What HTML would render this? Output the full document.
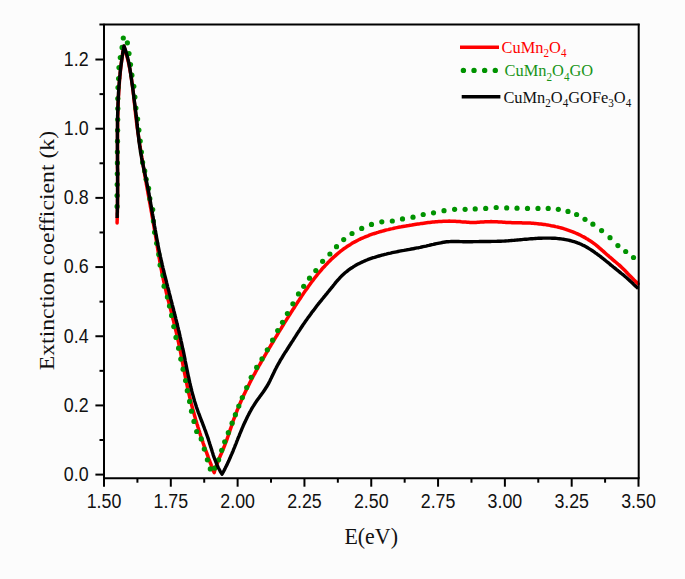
<!DOCTYPE html>
<html><head><meta charset="utf-8"><style>
html,body{margin:0;padding:0;background:#fcfcfc;}
svg{display:block;}
</style></head><body>
<svg width="685" height="579" viewBox="0 0 685 579">
<rect x="0" y="0" width="685" height="579" fill="#fcfcfc"/>
<g fill="none" stroke-linejoin="round">
<path d="M117.1,223.0 L117.1,221.5 L117.2,220.0 L117.2,218.5 L117.3,217.0 L117.3,215.5 L117.3,213.9 L117.4,212.4 L117.4,210.9 L117.4,209.4 L117.5,207.9 L117.5,206.4 L117.5,204.9 L117.5,203.4 L117.5,201.9 L117.5,200.3 L117.6,198.8 L117.6,197.3 L117.6,195.8 L117.6,194.3 L117.6,192.8 L117.6,191.3 L117.6,189.7 L117.6,188.2 L117.6,186.7 L117.6,185.2 L117.6,183.7 L117.6,182.2 L117.6,180.7 L117.6,179.1 L117.6,177.6 L117.6,176.1 L117.6,174.6 L117.6,173.1 L117.6,171.6 L117.5,170.0 L117.5,168.5 L117.5,167.0 L117.5,165.5 L117.5,164.0 L117.5,162.5 L117.5,160.9 L117.5,159.4 L117.5,157.9 L117.5,156.4 L117.5,154.9 L117.5,153.3 L117.5,151.8 L117.5,150.3 L117.5,148.8 L117.5,147.3 L117.5,145.8 L117.5,144.2 L117.5,142.7 L117.5,141.2 L117.5,139.7 L117.5,138.2 L117.5,136.7 L117.5,135.1 L117.5,133.6 L117.5,132.1 L117.5,130.6 L117.5,129.1 L117.6,127.6 L117.6,126.0 L117.6,124.5 L117.6,123.0 L117.6,121.5 L117.7,120.0 L117.7,118.5 L117.7,117.0 L117.8,115.4 L117.8,113.9 L117.9,112.4 L117.9,110.9 L117.9,109.4 L118.0,107.9 L118.1,106.4 L118.1,104.8 L118.2,103.3 L118.2,101.8 L118.3,100.3 L118.4,98.8 L118.4,97.3 L118.5,95.8 L118.6,94.3 L118.7,92.8 L118.8,91.2 L118.9,89.7 L119.0,88.2 L119.1,86.7 L119.2,85.2 L119.3,83.7 L119.4,82.2 L119.5,80.7 L119.6,79.2 L119.8,77.7 L119.9,76.2 L120.0,74.7 L120.2,73.2 L120.3,71.7 L120.5,70.2 L120.7,68.6 L120.8,67.1 L121.0,65.6 L121.2,64.1 L121.4,62.6 L121.6,61.1 L121.8,59.7 L122.0,58.2 L122.2,56.7 L122.4,55.2 L122.6,53.7 L122.9,52.2 L123.1,50.7 L123.4,49.2 L123.6,47.7 L123.9,46.2 L124.4,47.6 L124.8,49.1 L125.3,50.5 L125.7,51.9 L126.1,53.4 L126.5,54.8 L126.9,56.3 L127.3,57.7 L127.7,59.2 L128.0,60.6 L128.4,62.1 L128.7,63.6 L129.0,65.0 L129.3,66.5 L129.6,68.0 L129.9,69.5 L130.1,70.9 L130.4,72.4 L130.7,73.9 L130.9,75.4 L131.1,76.9 L131.4,78.3 L131.6,79.8 L131.8,81.3 L132.0,82.8 L132.2,84.3 L132.4,85.8 L132.6,87.3 L132.8,88.8 L133.0,90.3 L133.2,91.8 L133.3,93.3 L133.5,94.8 L133.7,96.3 L133.8,97.8 L134.0,99.3 L134.2,100.8 L134.3,102.3 L134.5,103.8 L134.7,105.3 L134.8,106.8 L135.0,108.3 L135.1,109.8 L135.3,111.3 L135.5,112.8 L135.6,114.3 L135.8,115.8 L136.0,117.3 L136.2,118.8 L136.4,120.3 L136.5,121.8 L136.7,123.3 L136.9,124.8 L137.1,126.3 L137.3,127.8 L137.5,129.3 L137.7,130.8 L137.9,132.3 L138.1,133.8 L138.4,135.2 L138.6,136.7 L138.8,138.2 L139.0,139.7 L139.2,141.2 L139.5,142.7 L139.7,144.2 L139.9,145.7 L140.1,147.2 L140.4,148.6 L140.6,150.1 L140.8,151.6 L141.1,153.1 L141.3,154.6 L141.6,156.1 L141.8,157.6 L142.1,159.0 L142.3,160.5 L142.5,162.0 L142.8,163.5 L143.1,165.0 L143.3,166.5 L143.6,167.9 L143.8,169.4 L144.1,170.9 L144.3,172.4 L144.6,173.9 L144.8,175.4 L145.1,176.8 L145.4,178.3 L145.6,179.8 L145.9,181.3 L146.2,182.8 L146.4,184.3 L146.7,185.7 L147.0,187.2 L147.2,188.7 L147.5,190.2 L147.8,191.7 L148.0,193.2 L148.3,194.6 L148.6,196.1 L148.8,197.6 L149.1,199.1 L149.4,200.6 L149.6,202.1 L149.9,203.5 L150.2,205.0 L150.4,206.5 L150.7,208.0 L151.0,209.5 L151.2,211.0 L151.5,212.4 L151.8,213.9 L152.0,215.4 L152.3,216.9 L152.6,218.4 L152.8,219.9 L153.1,221.3 L153.3,222.8 L153.6,224.3 L153.9,225.8 L154.1,227.3 L154.4,228.8 L154.6,230.3 L154.9,231.7 L155.1,233.2 L155.4,234.7 L155.6,236.2 L155.9,237.7 L156.1,239.2 L156.4,240.7 L156.6,242.2 L156.8,243.6 L157.1,245.1 L157.3,246.6 L157.6,248.1 L157.8,249.6 L158.1,251.1 L158.3,252.6 L158.5,254.1 L158.8,255.5 L159.0,257.0 L159.3,258.5 L159.6,260.0 L159.8,261.5 L160.1,263.0 L160.3,264.4 L160.6,265.9 L160.9,267.4 L161.2,268.9 L161.5,270.3 L161.7,271.8 L162.0,273.3 L162.4,274.8 L162.7,276.2 L163.0,277.7 L163.3,279.2 L163.6,280.7 L163.9,282.1 L164.3,283.6 L164.6,285.1 L165.0,286.5 L165.3,288.0 L165.6,289.4 L166.0,290.9 L166.3,292.4 L166.7,293.8 L167.1,295.3 L167.4,296.8 L167.8,298.2 L168.1,299.7 L168.5,301.1 L168.9,302.6 L169.2,304.1 L169.6,305.5 L170.0,307.0 L170.4,308.4 L170.7,309.9 L171.1,311.4 L171.5,312.8 L171.8,314.3 L172.2,315.7 L172.6,317.2 L172.9,318.7 L173.3,320.1 L173.7,321.6 L174.0,323.0 L174.4,324.5 L174.8,326.0 L175.1,327.4 L175.5,328.9 L175.8,330.4 L176.2,331.8 L176.5,333.3 L176.8,334.8 L177.2,336.2 L177.5,337.7 L177.8,339.2 L178.1,340.6 L178.5,342.1 L178.8,343.6 L179.1,345.1 L179.4,346.5 L179.7,348.0 L180.0,349.5 L180.3,351.0 L180.6,352.5 L180.9,353.9 L181.2,355.4 L181.4,356.9 L181.7,358.4 L182.0,359.8 L182.3,361.3 L182.6,362.8 L182.9,364.3 L183.1,365.8 L183.4,367.2 L183.7,368.7 L184.0,370.2 L184.3,371.7 L184.6,373.2 L184.9,374.6 L185.2,376.1 L185.5,377.6 L185.7,379.1 L186.0,380.6 L186.4,382.0 L186.7,383.5 L187.0,385.0 L187.3,386.5 L187.6,387.9 L187.9,389.4 L188.3,390.9 L188.6,392.3 L188.9,393.8 L189.3,395.3 L189.6,396.7 L190.0,398.2 L190.3,399.7 L190.7,401.1 L191.1,402.6 L191.4,404.0 L191.8,405.5 L192.2,407.0 L192.6,408.4 L193.0,409.9 L193.4,411.3 L193.8,412.8 L194.2,414.2 L194.6,415.7 L195.0,417.1 L195.4,418.6 L195.8,420.0 L196.3,421.5 L196.7,422.9 L197.1,424.3 L197.6,425.8 L198.0,427.2 L198.5,428.7 L198.9,430.1 L199.4,431.5 L199.8,433.0 L200.3,434.4 L200.7,435.8 L201.2,437.3 L201.7,438.7 L202.2,440.1 L202.7,441.6 L203.1,443.0 L203.6,444.4 L204.1,445.8 L204.6,447.2 L205.1,448.7 L205.6,450.1 L206.1,451.5 L206.7,452.9 L207.2,454.3 L207.7,455.7 L208.2,457.2 L208.7,458.6 L209.3,460.0 L209.8,461.4 L210.3,462.8 L210.9,464.2 L211.4,465.6 L212.0,467.0 L212.5,468.4 L213.1,469.8 L213.6,471.2 L214.2,472.6 L214.6,471.1 L215.0,469.7 L215.5,468.3 L216.0,466.8 L216.5,465.4 L217.0,464.0 L217.6,462.6 L218.1,461.2 L218.7,459.8 L219.2,458.4 L219.8,457.0 L220.4,455.6 L221.0,454.3 L221.6,452.9 L222.2,451.5 L222.7,450.1 L223.3,448.7 L223.9,447.3 L224.5,445.9 L225.0,444.5 L225.5,443.1 L226.1,441.7 L226.6,440.3 L227.1,438.9 L227.6,437.5 L228.1,436.0 L228.6,434.6 L229.1,433.2 L229.6,431.8 L230.0,430.3 L230.5,428.9 L231.0,427.5 L231.5,426.0 L232.0,424.6 L232.5,423.2 L232.9,421.8 L233.4,420.3 L233.9,418.9 L234.5,417.5 L235.0,416.1 L235.5,414.7 L236.0,413.3 L236.6,411.9 L237.1,410.5 L237.7,409.1 L238.3,407.7 L238.8,406.3 L239.4,404.9 L240.0,403.6 L240.6,402.2 L241.2,400.8 L241.8,399.4 L242.4,398.1 L243.1,396.7 L243.7,395.3 L244.3,394.0 L245.0,392.6 L245.6,391.3 L246.3,389.9 L246.9,388.6 L247.6,387.2 L248.3,385.9 L249.0,384.5 L249.6,383.2 L250.3,381.8 L251.0,380.5 L251.7,379.2 L252.4,377.8 L253.1,376.5 L253.8,375.2 L254.6,373.9 L255.3,372.5 L256.0,371.2 L256.7,369.9 L257.5,368.6 L258.2,367.3 L258.9,365.9 L259.7,364.6 L260.4,363.3 L261.2,362.0 L261.9,360.7 L262.7,359.4 L263.4,358.1 L264.2,356.8 L264.9,355.5 L265.7,354.2 L266.4,352.9 L267.2,351.6 L268.0,350.3 L268.7,349.0 L269.5,347.7 L270.3,346.4 L271.0,345.1 L271.8,343.8 L272.6,342.5 L273.4,341.2 L274.1,339.9 L274.9,338.6 L275.7,337.3 L276.5,336.1 L277.2,334.8 L278.0,333.5 L278.8,332.2 L279.6,330.9 L280.4,329.6 L281.2,328.3 L281.9,327.1 L282.7,325.8 L283.5,324.5 L284.3,323.2 L285.1,321.9 L285.9,320.7 L286.7,319.4 L287.5,318.1 L288.3,316.8 L289.1,315.6 L289.9,314.3 L290.7,313.0 L291.5,311.7 L292.3,310.5 L293.1,309.2 L294.0,307.9 L294.8,306.7 L295.6,305.4 L296.4,304.2 L297.2,302.9 L298.1,301.6 L298.9,300.4 L299.7,299.1 L300.6,297.9 L301.4,296.6 L302.2,295.4 L303.1,294.1 L303.9,292.9 L304.8,291.6 L305.6,290.4 L306.5,289.2 L307.4,287.9 L308.2,286.7 L309.1,285.5 L310.0,284.3 L310.9,283.0 L311.8,281.8 L312.7,280.6 L313.6,279.4 L314.5,278.2 L315.4,277.1 L316.4,275.9 L317.3,274.7 L318.3,273.5 L319.2,272.4 L320.2,271.2 L321.2,270.1 L322.1,268.9 L323.1,267.8 L324.2,266.7 L325.2,265.6 L326.2,264.5 L327.3,263.4 L328.3,262.3 L329.4,261.3 L330.4,260.2 L331.5,259.1 L332.6,258.1 L333.7,257.1 L334.9,256.1 L336.0,255.1 L337.1,254.1 L338.3,253.1 L339.5,252.2 L340.6,251.2 L341.8,250.3 L343.0,249.4 L344.2,248.5 L345.5,247.7 L346.7,246.8 L347.9,246.0 L349.2,245.2 L350.5,244.4 L351.7,243.6 L353.0,242.8 L354.3,242.1 L355.7,241.4 L357.0,240.7 L358.3,240.0 L359.7,239.3 L361.0,238.7 L362.4,238.1 L363.8,237.5 L365.2,236.9 L366.6,236.3 L368.0,235.8 L369.4,235.2 L370.8,234.7 L372.2,234.2 L373.7,233.7 L375.1,233.3 L376.5,232.8 L378.0,232.4 L379.4,231.9 L380.9,231.5 L382.3,231.1 L383.8,230.7 L385.2,230.3 L386.7,229.9 L388.2,229.6 L389.6,229.2 L391.1,228.9 L392.6,228.6 L394.0,228.2 L395.5,227.9 L397.0,227.6 L398.5,227.3 L399.9,227.0 L401.4,226.8 L402.9,226.5 L404.4,226.2 L405.8,226.0 L407.3,225.7 L408.8,225.5 L410.3,225.2 L411.8,225.0 L413.3,224.7 L414.7,224.5 L416.2,224.3 L417.7,224.1 L419.2,223.9 L420.7,223.6 L422.2,223.4 L423.7,223.2 L425.2,223.0 L426.7,222.8 L428.2,222.6 L429.7,222.5 L431.2,222.3 L432.7,222.1 L434.2,222.0 L435.7,221.8 L437.2,221.7 L438.7,221.6 L440.2,221.5 L441.7,221.4 L443.2,221.3 L444.7,221.2 L446.2,221.2 L447.7,221.2 L449.2,221.1 L450.7,221.2 L452.2,221.2 L453.7,221.2 L455.2,221.3 L456.7,221.4 L458.2,221.5 L459.7,221.6 L461.2,221.8 L462.7,221.9 L464.1,222.0 L465.6,222.1 L467.1,222.2 L468.6,222.3 L470.1,222.4 L471.6,222.5 L473.1,222.5 L474.6,222.4 L476.1,222.4 L477.6,222.3 L479.1,222.2 L480.6,222.1 L482.1,222.0 L483.6,221.9 L485.1,221.8 L486.6,221.8 L488.1,221.7 L489.6,221.7 L491.1,221.6 L492.6,221.7 L494.1,221.7 L495.6,221.7 L497.1,221.8 L498.6,221.9 L500.1,222.0 L501.6,222.1 L503.1,222.2 L504.6,222.3 L506.1,222.4 L507.6,222.5 L509.1,222.6 L510.6,222.6 L512.1,222.7 L513.6,222.7 L515.1,222.8 L516.7,222.8 L518.2,222.8 L519.7,222.8 L521.2,222.8 L522.7,222.9 L524.2,222.9 L525.7,222.9 L527.2,223.0 L528.7,223.1 L530.2,223.1 L531.7,223.2 L533.3,223.3 L534.8,223.4 L536.3,223.6 L537.8,223.7 L539.3,223.9 L540.8,224.0 L542.3,224.2 L543.8,224.4 L545.3,224.6 L546.8,224.9 L548.2,225.1 L549.7,225.4 L551.2,225.7 L552.7,225.9 L554.2,226.2 L555.6,226.6 L557.1,226.9 L558.5,227.3 L560.0,227.6 L561.4,228.0 L562.9,228.4 L564.3,228.9 L565.7,229.3 L567.2,229.8 L568.6,230.3 L570.0,230.8 L571.4,231.3 L572.8,231.8 L574.1,232.4 L575.5,233.0 L576.9,233.6 L578.2,234.2 L579.6,234.8 L580.9,235.5 L582.2,236.2 L583.6,236.9 L584.9,237.6 L586.2,238.4 L587.4,239.1 L588.7,239.9 L590.0,240.7 L591.2,241.6 L592.5,242.4 L593.7,243.3 L594.9,244.2 L596.1,245.1 L597.3,246.1 L598.5,247.1 L599.6,248.1 L600.8,249.1 L601.9,250.1 L603.1,251.1 L604.2,252.1 L605.4,253.2 L606.5,254.2 L607.6,255.2 L608.8,256.2 L609.9,257.2 L611.1,258.2 L612.2,259.1 L613.3,260.1 L614.5,261.1 L615.6,262.0 L616.8,263.0 L617.9,264.0 L619.0,264.9 L620.1,265.9 L621.2,266.9 L622.3,268.0 L623.3,269.0 L624.4,270.1 L625.4,271.1 L626.5,272.2 L627.5,273.3 L628.6,274.4 L629.6,275.4 L630.7,276.5 L631.7,277.6 L632.8,278.7 L633.8,279.8 L634.9,280.8 L636.0,281.9 L637.1,282.9 L638.2,283.9" stroke="#ff0000" stroke-width="3.5" stroke-linecap="round"/>
</g><g fill="#009300">
<circle cx="117.1" cy="206.4" r="2.6"/>
<circle cx="117.1" cy="195.5" r="2.6"/>
<circle cx="117.2" cy="184.6" r="2.6"/>
<circle cx="117.3" cy="173.8" r="2.6"/>
<circle cx="117.4" cy="162.9" r="2.6"/>
<circle cx="117.4" cy="152.1" r="2.6"/>
<circle cx="117.5" cy="141.2" r="2.6"/>
<circle cx="117.6" cy="130.3" r="2.6"/>
<circle cx="117.7" cy="119.5" r="2.6"/>
<circle cx="117.8" cy="108.6" r="2.6"/>
<circle cx="117.8" cy="98.6" r="2.6"/>
<circle cx="118.0" cy="87.6" r="2.6"/>
<circle cx="118.6" cy="78.5" r="2.6"/>
<circle cx="119.0" cy="67.6" r="2.6"/>
<circle cx="120.3" cy="57.5" r="2.6"/>
<circle cx="122.1" cy="47.4" r="2.6"/>
<circle cx="123.3" cy="38.0" r="2.6"/>
<circle cx="127.4" cy="42.8" r="2.6"/>
<circle cx="129.0" cy="53.5" r="2.6"/>
<circle cx="130.5" cy="64.5" r="2.6"/>
<circle cx="131.9" cy="75.2" r="2.6"/>
<circle cx="133.8" cy="86.3" r="2.6"/>
<circle cx="134.9" cy="97.1" r="2.6"/>
<circle cx="135.9" cy="108.1" r="2.6"/>
<circle cx="137.6" cy="119.1" r="2.6"/>
<circle cx="138.9" cy="130.1" r="2.6"/>
<circle cx="140.2" cy="141.1" r="2.6"/>
<circle cx="141.4" cy="152.1" r="2.6"/>
<circle cx="142.6" cy="162.4" r="2.6"/>
<circle cx="144.7" cy="170.9" r="2.6"/>
<circle cx="146.2" cy="179.3" r="2.6"/>
<circle cx="148.6" cy="188.4" r="2.6"/>
<circle cx="149.8" cy="198.7" r="2.6"/>
<circle cx="152.7" cy="209.6" r="2.6"/>
<circle cx="153.4" cy="221.0" r="2.6"/>
<circle cx="154.6" cy="232.3" r="2.6"/>
<circle cx="156.7" cy="243.3" r="2.6"/>
<circle cx="158.8" cy="254.4" r="2.6"/>
<circle cx="160.1" cy="265.0" r="2.6"/>
<circle cx="163.0" cy="275.4" r="2.6"/>
<circle cx="164.1" cy="286.2" r="2.6"/>
<circle cx="167.4" cy="297.0" r="2.6"/>
<circle cx="169.5" cy="306.0" r="2.6"/>
<circle cx="171.6" cy="315.4" r="2.6"/>
<circle cx="173.8" cy="326.6" r="2.6"/>
<circle cx="176.0" cy="337.4" r="2.6"/>
<circle cx="178.6" cy="348.2" r="2.6"/>
<circle cx="180.8" cy="359.1" r="2.6"/>
<circle cx="183.1" cy="369.2" r="2.6"/>
<circle cx="185.6" cy="380.5" r="2.6"/>
<circle cx="187.3" cy="390.7" r="2.6"/>
<circle cx="189.6" cy="401.4" r="2.6"/>
<circle cx="191.5" cy="411.2" r="2.6"/>
<circle cx="194.0" cy="421.4" r="2.6"/>
<circle cx="196.7" cy="431.5" r="2.6"/>
<circle cx="201.2" cy="438.9" r="2.6"/>
<circle cx="204.3" cy="449.1" r="2.6"/>
<circle cx="207.4" cy="459.8" r="2.6"/>
<circle cx="210.3" cy="468.9" r="2.6"/>
<circle cx="214.7" cy="468.1" r="2.6"/>
<circle cx="218.6" cy="459.8" r="2.6"/>
<circle cx="221.7" cy="450.3" r="2.6"/>
<circle cx="224.7" cy="441.8" r="2.6"/>
<circle cx="228.3" cy="432.7" r="2.6"/>
<circle cx="232.1" cy="423.2" r="2.6"/>
<circle cx="235.4" cy="414.7" r="2.6"/>
<circle cx="238.8" cy="406.1" r="2.6"/>
<circle cx="242.3" cy="397.6" r="2.6"/>
<circle cx="246.7" cy="387.6" r="2.6"/>
<circle cx="251.2" cy="377.3" r="2.6"/>
<circle cx="256.6" cy="367.4" r="2.6"/>
<circle cx="262.0" cy="358.9" r="2.6"/>
<circle cx="267.3" cy="349.8" r="2.6"/>
<circle cx="272.6" cy="340.2" r="2.6"/>
<circle cx="277.7" cy="330.5" r="2.6"/>
<circle cx="282.5" cy="322.3" r="2.6"/>
<circle cx="287.4" cy="313.5" r="2.6"/>
<circle cx="292.9" cy="303.8" r="2.6"/>
<circle cx="298.5" cy="293.9" r="2.6"/>
<circle cx="303.7" cy="286.3" r="2.6"/>
<circle cx="309.5" cy="278.2" r="2.6"/>
<circle cx="315.8" cy="270.6" r="2.6"/>
<circle cx="322.6" cy="261.3" r="2.6"/>
<circle cx="329.9" cy="254.0" r="2.6"/>
<circle cx="336.5" cy="246.7" r="2.6"/>
<circle cx="343.7" cy="239.6" r="2.6"/>
<circle cx="352.0" cy="233.5" r="2.6"/>
<circle cx="361.7" cy="228.4" r="2.6"/>
<circle cx="371.5" cy="224.4" r="2.6"/>
<circle cx="381.8" cy="221.8" r="2.6"/>
<circle cx="392.3" cy="221.0" r="2.6"/>
<circle cx="402.5" cy="218.9" r="2.6"/>
<circle cx="413.0" cy="217.2" r="2.6"/>
<circle cx="423.2" cy="214.5" r="2.6"/>
<circle cx="433.5" cy="212.8" r="2.6"/>
<circle cx="444.0" cy="210.7" r="2.6"/>
<circle cx="454.6" cy="209.3" r="2.6"/>
<circle cx="465.1" cy="209.3" r="2.6"/>
<circle cx="475.2" cy="208.9" r="2.6"/>
<circle cx="485.7" cy="208.4" r="2.6"/>
<circle cx="496.2" cy="207.5" r="2.6"/>
<circle cx="506.7" cy="207.9" r="2.6"/>
<circle cx="517.0" cy="208.2" r="2.6"/>
<circle cx="527.5" cy="208.4" r="2.6"/>
<circle cx="538.0" cy="208.4" r="2.6"/>
<circle cx="548.2" cy="208.4" r="2.6"/>
<circle cx="558.3" cy="209.3" r="2.6"/>
<circle cx="568.0" cy="211.4" r="2.6"/>
<circle cx="576.6" cy="214.5" r="2.6"/>
<circle cx="585.0" cy="219.3" r="2.6"/>
<circle cx="592.9" cy="224.2" r="2.6"/>
<circle cx="601.6" cy="230.6" r="2.6"/>
<circle cx="610.0" cy="237.7" r="2.6"/>
<circle cx="617.9" cy="245.6" r="2.6"/>
<circle cx="625.7" cy="251.5" r="2.6"/>
<circle cx="633.5" cy="257.5" r="2.6"/>
</g><g fill="none" stroke-linejoin="round">
<path d="M117.1,218.0 L117.2,216.5 L117.2,215.0 L117.2,213.4 L117.3,211.9 L117.3,210.4 L117.4,208.9 L117.4,207.4 L117.4,205.8 L117.5,204.3 L117.5,202.8 L117.5,201.3 L117.5,199.7 L117.5,198.2 L117.6,196.7 L117.6,195.2 L117.6,193.7 L117.6,192.1 L117.6,190.6 L117.6,189.1 L117.6,187.6 L117.6,186.0 L117.6,184.5 L117.6,183.0 L117.6,181.4 L117.6,179.9 L117.6,178.4 L117.6,176.9 L117.6,175.3 L117.6,173.8 L117.6,172.3 L117.6,170.8 L117.6,169.2 L117.5,167.7 L117.5,166.2 L117.5,164.6 L117.5,163.1 L117.5,161.6 L117.5,160.1 L117.5,158.5 L117.5,157.0 L117.5,155.5 L117.5,153.9 L117.4,152.4 L117.4,150.9 L117.4,149.3 L117.4,147.8 L117.4,146.3 L117.4,144.8 L117.4,143.2 L117.4,141.7 L117.4,140.2 L117.4,138.6 L117.4,137.1 L117.4,135.6 L117.4,134.1 L117.4,132.5 L117.4,131.0 L117.4,129.5 L117.5,127.9 L117.5,126.4 L117.5,124.9 L117.5,123.4 L117.5,121.8 L117.6,120.3 L117.6,118.8 L117.6,117.3 L117.6,115.7 L117.7,114.2 L117.7,112.7 L117.8,111.2 L117.8,109.6 L117.9,108.1 L117.9,106.6 L118.0,105.1 L118.0,103.5 L118.1,102.0 L118.2,100.5 L118.2,99.0 L118.3,97.4 L118.4,95.9 L118.5,94.4 L118.5,92.9 L118.6,91.4 L118.7,89.8 L118.8,88.3 L118.9,86.8 L119.0,85.3 L119.2,83.8 L119.3,82.2 L119.4,80.7 L119.5,79.2 L119.7,77.7 L119.8,76.2 L120.0,74.7 L120.1,73.1 L120.3,71.6 L120.4,70.1 L120.6,68.6 L120.8,67.1 L121.0,65.6 L121.2,64.1 L121.4,62.6 L121.6,61.1 L121.8,59.5 L122.0,58.0 L122.2,56.5 L122.5,55.0 L122.7,53.5 L122.9,52.0 L123.2,50.5 L123.5,49.0 L123.7,47.5 L124.0,46.0 L124.5,47.4 L125.0,48.8 L125.5,50.3 L126.0,51.7 L126.4,53.1 L126.8,54.6 L127.2,56.0 L127.6,57.5 L127.9,58.9 L128.3,60.4 L128.6,61.8 L128.9,63.3 L129.2,64.8 L129.4,66.3 L129.7,67.7 L130.0,69.2 L130.2,70.7 L130.4,72.2 L130.7,73.7 L130.9,75.2 L131.1,76.7 L131.3,78.2 L131.5,79.6 L131.7,81.1 L131.9,82.6 L132.1,84.1 L132.4,85.6 L132.6,87.1 L132.8,88.6 L133.0,90.1 L133.2,91.6 L133.4,93.1 L133.6,94.6 L133.8,96.1 L133.9,97.6 L134.1,99.1 L134.3,100.6 L134.5,102.0 L134.7,103.5 L134.9,105.0 L135.1,106.5 L135.3,108.0 L135.4,109.5 L135.6,111.0 L135.8,112.5 L136.0,114.0 L136.1,115.5 L136.3,117.0 L136.5,118.5 L136.6,120.0 L136.8,121.5 L137.0,123.0 L137.1,124.5 L137.3,126.0 L137.4,127.5 L137.6,129.0 L137.8,130.5 L137.9,132.0 L138.1,133.5 L138.3,135.0 L138.5,136.5 L138.7,138.0 L138.8,139.5 L139.0,141.0 L139.2,142.5 L139.4,143.9 L139.6,145.4 L139.8,146.9 L140.1,148.4 L140.3,149.9 L140.5,151.4 L140.8,152.9 L141.0,154.4 L141.3,155.8 L141.5,157.3 L141.8,158.8 L142.1,160.3 L142.4,161.7 L142.7,163.2 L143.0,164.7 L143.3,166.2 L143.6,167.6 L143.9,169.1 L144.2,170.6 L144.5,172.0 L144.8,173.5 L145.2,175.0 L145.5,176.5 L145.8,177.9 L146.1,179.4 L146.4,180.9 L146.7,182.3 L147.0,183.8 L147.3,185.3 L147.6,186.8 L147.9,188.2 L148.2,189.7 L148.5,191.2 L148.8,192.7 L149.0,194.2 L149.3,195.6 L149.6,197.1 L149.9,198.6 L150.1,200.1 L150.4,201.6 L150.6,203.1 L150.9,204.5 L151.2,206.0 L151.4,207.5 L151.7,209.0 L151.9,210.5 L152.2,212.0 L152.4,213.5 L152.7,214.9 L152.9,216.4 L153.2,217.9 L153.4,219.4 L153.7,220.9 L153.9,222.4 L154.2,223.9 L154.4,225.3 L154.7,226.8 L155.0,228.3 L155.2,229.8 L155.5,231.3 L155.7,232.8 L156.0,234.2 L156.3,235.7 L156.5,237.2 L156.8,238.7 L157.1,240.2 L157.4,241.6 L157.6,243.1 L157.9,244.6 L158.2,246.1 L158.5,247.6 L158.8,249.0 L159.1,250.5 L159.4,252.0 L159.7,253.4 L160.0,254.9 L160.3,256.4 L160.7,257.9 L161.0,259.3 L161.3,260.8 L161.7,262.3 L162.0,263.7 L162.3,265.2 L162.7,266.6 L163.0,268.1 L163.4,269.6 L163.7,271.0 L164.1,272.5 L164.4,274.0 L164.8,275.4 L165.2,276.9 L165.5,278.3 L165.9,279.8 L166.3,281.2 L166.6,282.7 L167.0,284.2 L167.4,285.6 L167.7,287.1 L168.1,288.5 L168.5,290.0 L168.9,291.4 L169.2,292.9 L169.6,294.4 L170.0,295.8 L170.4,297.3 L170.7,298.7 L171.1,300.2 L171.5,301.6 L171.9,303.1 L172.2,304.6 L172.6,306.0 L173.0,307.5 L173.4,308.9 L173.7,310.4 L174.1,311.8 L174.5,313.3 L174.8,314.8 L175.2,316.2 L175.6,317.7 L175.9,319.1 L176.3,320.6 L176.7,322.1 L177.0,323.5 L177.4,325.0 L177.7,326.4 L178.1,327.9 L178.4,329.4 L178.8,330.8 L179.1,332.3 L179.5,333.8 L179.8,335.2 L180.1,336.7 L180.5,338.2 L180.8,339.6 L181.1,341.1 L181.5,342.6 L181.8,344.1 L182.1,345.5 L182.4,347.0 L182.7,348.5 L183.1,349.9 L183.4,351.4 L183.7,352.9 L184.0,354.4 L184.3,355.9 L184.6,357.3 L184.9,358.8 L185.1,360.3 L185.4,361.8 L185.7,363.2 L186.0,364.7 L186.3,366.2 L186.6,367.7 L186.9,369.2 L187.2,370.6 L187.5,372.1 L187.8,373.6 L188.1,375.1 L188.4,376.5 L188.8,378.0 L189.1,379.5 L189.4,380.9 L189.7,382.4 L190.1,383.9 L190.4,385.3 L190.7,386.8 L191.1,388.2 L191.5,389.7 L191.8,391.2 L192.2,392.6 L192.6,394.1 L193.0,395.5 L193.4,396.9 L193.8,398.4 L194.2,399.8 L194.6,401.3 L195.1,402.7 L195.5,404.1 L196.0,405.5 L196.4,407.0 L196.9,408.4 L197.4,409.8 L197.9,411.2 L198.4,412.6 L199.0,414.0 L199.5,415.4 L200.0,416.8 L200.5,418.2 L201.1,419.6 L201.6,421.0 L202.2,422.4 L202.7,423.8 L203.2,425.2 L203.8,426.6 L204.3,428.0 L204.8,429.4 L205.4,430.8 L205.9,432.3 L206.4,433.7 L206.9,435.1 L207.4,436.5 L207.9,437.9 L208.4,439.4 L208.8,440.8 L209.3,442.2 L209.7,443.7 L210.2,445.1 L210.6,446.6 L211.1,448.0 L211.5,449.4 L212.0,450.9 L212.4,452.3 L212.9,453.7 L213.3,455.2 L213.8,456.6 L214.3,458.0 L214.8,459.4 L215.4,460.8 L215.9,462.2 L216.5,463.6 L217.1,465.0 L217.7,466.3 L218.3,467.7 L219.0,469.0 L219.7,470.3 L220.4,471.6 L221.2,472.9 L222.0,474.2 L222.7,472.9 L223.5,471.6 L224.2,470.2 L224.9,468.9 L225.5,467.6 L226.2,466.2 L226.9,464.9 L227.5,463.5 L228.2,462.1 L228.8,460.8 L229.4,459.4 L230.0,458.0 L230.6,456.6 L231.2,455.2 L231.8,453.9 L232.4,452.5 L233.0,451.1 L233.5,449.7 L234.1,448.3 L234.7,446.9 L235.2,445.5 L235.8,444.1 L236.4,442.6 L236.9,441.2 L237.5,439.8 L238.0,438.4 L238.6,437.0 L239.2,435.6 L239.7,434.2 L240.3,432.8 L240.9,431.4 L241.5,430.0 L242.0,428.7 L242.6,427.3 L243.2,425.9 L243.8,424.5 L244.5,423.1 L245.1,421.8 L245.7,420.4 L246.4,419.0 L247.0,417.7 L247.7,416.3 L248.4,415.0 L249.0,413.7 L249.7,412.4 L250.5,411.0 L251.2,409.7 L251.9,408.4 L252.7,407.1 L253.5,405.9 L254.3,404.6 L255.1,403.3 L255.9,402.1 L256.8,400.8 L257.7,399.6 L258.5,398.4 L259.4,397.2 L260.3,395.9 L261.2,394.7 L262.1,393.5 L263.0,392.3 L263.9,391.0 L264.7,389.8 L265.5,388.5 L266.3,387.3 L267.1,386.0 L267.9,384.7 L268.6,383.4 L269.3,382.0 L270.0,380.7 L270.6,379.3 L271.3,378.0 L271.9,376.6 L272.6,375.3 L273.2,373.9 L273.9,372.5 L274.5,371.2 L275.2,369.8 L275.9,368.5 L276.6,367.1 L277.3,365.8 L278.0,364.5 L278.8,363.2 L279.5,361.9 L280.2,360.5 L281.0,359.2 L281.8,358.0 L282.6,356.7 L283.3,355.4 L284.1,354.1 L284.9,352.8 L285.8,351.6 L286.6,350.3 L287.4,349.0 L288.2,347.8 L289.0,346.5 L289.8,345.2 L290.6,344.0 L291.4,342.7 L292.3,341.4 L293.1,340.2 L293.9,338.9 L294.7,337.6 L295.5,336.4 L296.3,335.1 L297.1,333.8 L297.9,332.6 L298.8,331.3 L299.6,330.1 L300.4,328.8 L301.3,327.5 L302.1,326.3 L302.9,325.0 L303.8,323.8 L304.6,322.6 L305.5,321.3 L306.4,320.1 L307.2,318.9 L308.1,317.6 L309.0,316.4 L309.9,315.2 L310.8,314.0 L311.6,312.8 L312.5,311.6 L313.5,310.4 L314.4,309.2 L315.3,308.0 L316.2,306.8 L317.1,305.6 L318.0,304.4 L319.0,303.2 L319.9,302.0 L320.9,300.9 L321.8,299.7 L322.8,298.5 L323.7,297.4 L324.7,296.2 L325.6,295.0 L326.6,293.9 L327.5,292.7 L328.5,291.5 L329.4,290.4 L330.4,289.2 L331.3,288.0 L332.3,286.9 L333.2,285.7 L334.2,284.5 L335.1,283.3 L336.0,282.2 L337.0,281.0 L338.0,279.9 L339.0,278.8 L340.0,277.7 L341.0,276.6 L342.1,275.5 L343.2,274.5 L344.3,273.5 L345.4,272.5 L346.6,271.6 L347.8,270.6 L349.0,269.7 L350.2,268.8 L351.5,268.0 L352.8,267.2 L354.0,266.4 L355.3,265.6 L356.7,264.8 L358.0,264.1 L359.3,263.4 L360.7,262.7 L362.0,262.1 L363.4,261.5 L364.8,260.9 L366.2,260.3 L367.6,259.7 L369.0,259.2 L370.4,258.7 L371.8,258.2 L373.2,257.7 L374.6,257.3 L376.1,256.8 L377.5,256.4 L378.9,256.0 L380.4,255.6 L381.8,255.2 L383.3,254.8 L384.8,254.4 L386.2,254.1 L387.7,253.7 L389.1,253.4 L390.6,253.1 L392.1,252.7 L393.5,252.4 L395.0,252.1 L396.5,251.8 L398.0,251.5 L399.5,251.2 L400.9,250.9 L402.4,250.6 L403.9,250.4 L405.4,250.1 L406.9,249.8 L408.3,249.6 L409.8,249.3 L411.3,249.0 L412.8,248.8 L414.3,248.5 L415.7,248.2 L417.2,247.9 L418.7,247.7 L420.2,247.4 L421.7,247.0 L423.1,246.7 L424.6,246.4 L426.1,246.1 L427.6,245.7 L429.0,245.4 L430.5,245.0 L432.0,244.7 L433.4,244.4 L434.9,244.0 L436.4,243.7 L437.9,243.4 L439.3,243.1 L440.8,242.8 L442.3,242.5 L443.7,242.2 L445.2,242.0 L446.7,241.8 L448.2,241.7 L449.7,241.6 L451.2,241.5 L452.7,241.5 L454.2,241.5 L455.7,241.5 L457.2,241.5 L458.7,241.5 L460.2,241.6 L461.7,241.6 L463.2,241.7 L464.7,241.7 L466.2,241.7 L467.7,241.7 L469.2,241.7 L470.7,241.7 L472.2,241.7 L473.7,241.6 L475.2,241.6 L476.7,241.6 L478.2,241.6 L479.8,241.5 L481.3,241.5 L482.8,241.5 L484.3,241.5 L485.8,241.5 L487.3,241.5 L488.8,241.5 L490.3,241.5 L491.8,241.4 L493.3,241.4 L494.8,241.4 L496.3,241.4 L497.8,241.3 L499.4,241.3 L500.9,241.2 L502.4,241.1 L503.9,241.1 L505.4,241.0 L506.9,240.9 L508.4,240.8 L509.9,240.6 L511.4,240.5 L512.9,240.4 L514.4,240.3 L515.9,240.1 L517.4,240.0 L518.9,239.9 L520.4,239.7 L521.9,239.6 L523.4,239.4 L524.9,239.3 L526.4,239.2 L527.9,239.1 L529.4,238.9 L530.9,238.8 L532.4,238.7 L533.9,238.6 L535.4,238.5 L536.9,238.4 L538.4,238.3 L539.9,238.3 L541.4,238.2 L543.0,238.1 L544.5,238.1 L546.0,238.1 L547.5,238.1 L549.0,238.1 L550.5,238.1 L552.0,238.2 L553.5,238.3 L555.0,238.3 L556.5,238.4 L558.0,238.6 L559.5,238.7 L561.0,238.9 L562.5,239.1 L564.0,239.3 L565.5,239.6 L566.9,239.9 L568.4,240.2 L569.8,240.5 L571.3,240.9 L572.7,241.3 L574.1,241.7 L575.5,242.1 L576.9,242.6 L578.3,243.2 L579.7,243.7 L581.1,244.3 L582.4,245.0 L583.8,245.6 L585.1,246.3 L586.4,247.0 L587.7,247.8 L589.0,248.6 L590.3,249.4 L591.6,250.2 L592.8,251.0 L594.1,251.9 L595.3,252.8 L596.6,253.7 L597.8,254.6 L599.1,255.5 L600.3,256.4 L601.5,257.4 L602.7,258.3 L603.9,259.3 L605.1,260.2 L606.3,261.2 L607.5,262.2 L608.7,263.1 L609.8,264.1 L611.0,265.1 L612.2,266.0 L613.3,267.0 L614.5,267.9 L615.7,268.9 L616.8,269.8 L618.0,270.7 L619.1,271.6 L620.3,272.6 L621.4,273.5 L622.6,274.4 L623.7,275.3 L624.8,276.3 L626.0,277.3 L627.1,278.2 L628.2,279.2 L629.3,280.2 L630.4,281.3 L631.5,282.3 L632.6,283.3 L633.7,284.4 L634.8,285.4 L635.9,286.5 L637.1,287.5 L638.2,288.5" stroke="#000000" stroke-width="3.4" stroke-linecap="butt"/>
</g>
<g stroke="#000" stroke-width="2" fill="none">
<line x1="99.4" y1="24.6" x2="639.6" y2="24.6"/>
<line x1="104.0" y1="23.700000000000003" x2="104.0" y2="478.2"/>
<line x1="638.7" y1="23.700000000000003" x2="638.7" y2="478.2"/>
<line x1="103.1" y1="478.2" x2="639.6" y2="478.2"/>
<line x1="104.00" y1="478.2" x2="104.00" y2="486.7"/>
<line x1="137.41" y1="478.2" x2="137.41" y2="482.7"/>
<line x1="170.81" y1="478.2" x2="170.81" y2="486.7"/>
<line x1="204.22" y1="478.2" x2="204.22" y2="482.7"/>
<line x1="237.62" y1="478.2" x2="237.62" y2="486.7"/>
<line x1="271.03" y1="478.2" x2="271.03" y2="482.7"/>
<line x1="304.44" y1="478.2" x2="304.44" y2="486.7"/>
<line x1="337.84" y1="478.2" x2="337.84" y2="482.7"/>
<line x1="371.25" y1="478.2" x2="371.25" y2="486.7"/>
<line x1="404.66" y1="478.2" x2="404.66" y2="482.7"/>
<line x1="438.06" y1="478.2" x2="438.06" y2="486.7"/>
<line x1="471.47" y1="478.2" x2="471.47" y2="482.7"/>
<line x1="504.88" y1="478.2" x2="504.88" y2="486.7"/>
<line x1="538.28" y1="478.2" x2="538.28" y2="482.7"/>
<line x1="571.69" y1="478.2" x2="571.69" y2="486.7"/>
<line x1="605.09" y1="478.2" x2="605.09" y2="482.7"/>
<line x1="638.50" y1="478.2" x2="638.50" y2="486.7"/>
<line x1="104.0" y1="474.60" x2="95.4" y2="474.60"/>
<line x1="104.0" y1="440.01" x2="99.5" y2="440.01"/>
<line x1="104.0" y1="405.42" x2="95.4" y2="405.42"/>
<line x1="104.0" y1="370.83" x2="99.5" y2="370.83"/>
<line x1="104.0" y1="336.24" x2="95.4" y2="336.24"/>
<line x1="104.0" y1="301.65" x2="99.5" y2="301.65"/>
<line x1="104.0" y1="267.06" x2="95.4" y2="267.06"/>
<line x1="104.0" y1="232.47" x2="99.5" y2="232.47"/>
<line x1="104.0" y1="197.88" x2="95.4" y2="197.88"/>
<line x1="104.0" y1="163.29" x2="99.5" y2="163.29"/>
<line x1="104.0" y1="128.70" x2="95.4" y2="128.70"/>
<line x1="104.0" y1="94.11" x2="99.5" y2="94.11"/>
<line x1="104.0" y1="59.52" x2="95.4" y2="59.52"/>
</g>
<g font-family="'Liberation Sans', sans-serif" font-size="20" fill="#111">
<text transform="translate(104.00,508.3) scale(0.89,1)" text-anchor="middle">1.50</text>
<text transform="translate(170.81,508.3) scale(0.89,1)" text-anchor="middle">1.75</text>
<text transform="translate(237.62,508.3) scale(0.89,1)" text-anchor="middle">2.00</text>
<text transform="translate(304.44,508.3) scale(0.89,1)" text-anchor="middle">2.25</text>
<text transform="translate(371.25,508.3) scale(0.89,1)" text-anchor="middle">2.50</text>
<text transform="translate(438.06,508.3) scale(0.89,1)" text-anchor="middle">2.75</text>
<text transform="translate(504.88,508.3) scale(0.89,1)" text-anchor="middle">3.00</text>
<text transform="translate(571.69,508.3) scale(0.89,1)" text-anchor="middle">3.25</text>
<text transform="translate(638.50,508.3) scale(0.89,1)" text-anchor="middle">3.50</text>
<text transform="translate(88.6,480.90) scale(0.89,1)" text-anchor="end">0.0</text>
<text transform="translate(88.6,411.72) scale(0.89,1)" text-anchor="end">0.2</text>
<text transform="translate(88.6,342.54) scale(0.89,1)" text-anchor="end">0.4</text>
<text transform="translate(88.6,273.36) scale(0.89,1)" text-anchor="end">0.6</text>
<text transform="translate(88.6,204.18) scale(0.89,1)" text-anchor="end">0.8</text>
<text transform="translate(88.6,135.00) scale(0.89,1)" text-anchor="end">1.0</text>
<text transform="translate(88.6,65.82) scale(0.89,1)" text-anchor="end">1.2</text>
</g>
<g font-family="'Liberation Serif', serif" fill="#111">
<text transform="translate(371.2,544.2) scale(0.92,1)" font-size="23.8" text-anchor="middle">E(eV)</text>
<text transform="translate(54.3,250.6) scale(0.9,1) rotate(-90)" font-size="23.75" text-anchor="middle">Extinction coefficient (k)</text>
</g>
<g>
<line x1="460" y1="47.2" x2="499" y2="47.2" stroke="#ff0000" stroke-width="3.5"/>
<line x1="463.4" y1="70.4" x2="496" y2="70.4" stroke="#009300" stroke-width="5.4" stroke-linecap="round" stroke-dasharray="0 10.63"/>
<line x1="461.7" y1="96.7" x2="500.4" y2="96.7" stroke="#000" stroke-width="3.5"/>
</g>
<g font-family="'Liberation Serif', serif" font-size="17">
<text transform="translate(501.6,52.8) scale(0.965,1)" fill="#ff0000">CuMn<tspan font-size="11.5" dy="4.6">2</tspan><tspan dy="-4.6">O</tspan><tspan font-size="11.5" dy="4.6">4</tspan></text>
<text transform="translate(504.6,76.4) scale(0.965,1)" fill="#189418">CuMn<tspan font-size="11.5" dy="4.6">2</tspan><tspan dy="-4.6">O</tspan><tspan font-size="11.5" dy="4.6">4</tspan><tspan dy="-4.6">GO</tspan></text>
<text transform="translate(503.4,102.6) scale(0.965,1)" fill="#111">CuMn<tspan font-size="11.5" dy="4.6">2</tspan><tspan dy="-4.6">O</tspan><tspan font-size="11.5" dy="4.6">4</tspan><tspan dy="-4.6">GOFe</tspan><tspan font-size="11.5" dy="4.6">3</tspan><tspan dy="-4.6">O</tspan><tspan font-size="11.5" dy="4.6">4</tspan></text>
</g>
</svg>
</body></html>
